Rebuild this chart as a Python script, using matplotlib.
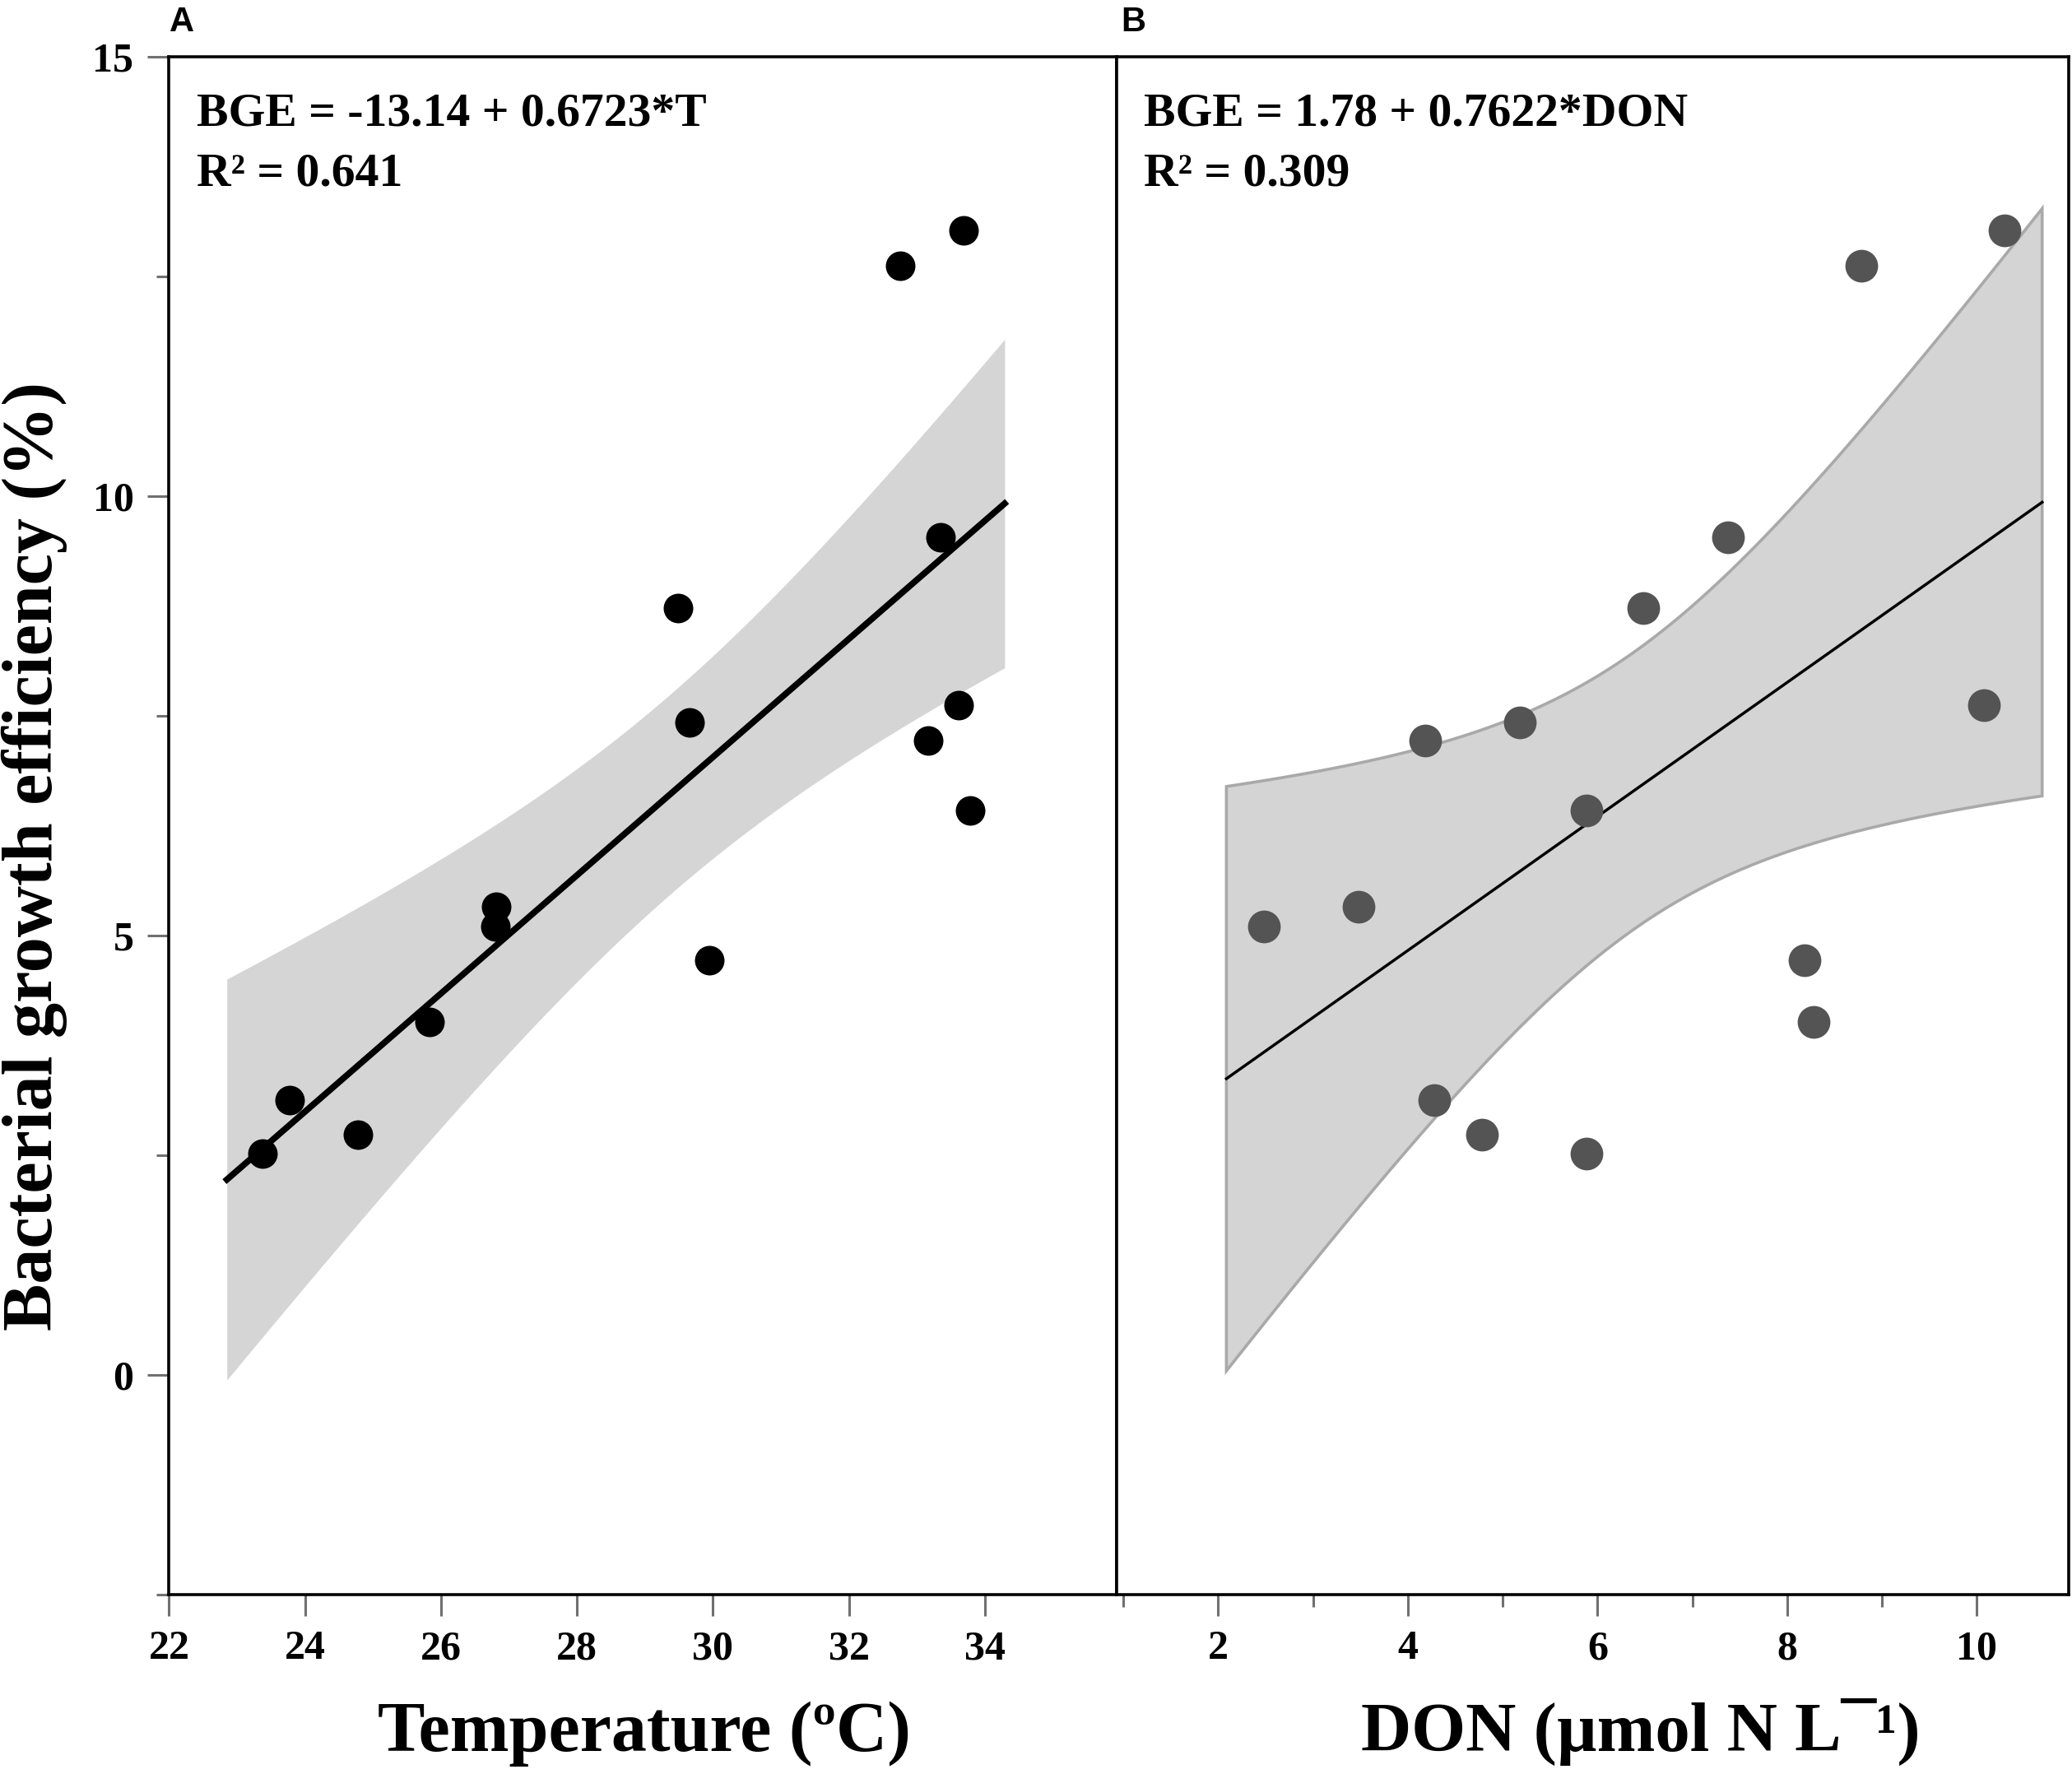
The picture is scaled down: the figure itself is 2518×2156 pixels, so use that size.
import numpy as np
import matplotlib
matplotlib.use("Agg")
import matplotlib.pyplot as plt
from matplotlib.ticker import FixedLocator

# values (one entry per sample, same order in all lists)
bge = [2.52, 3.13, 2.73, 4.02, 5.33, 5.10, 4.72, 8.72, 7.42,
       12.62, 13.02, 9.53, 7.22, 7.62, 6.42]
temp = [23.37, 23.77, 24.78, 25.83, 26.81, 26.80, 29.95, 29.49, 29.65,
        32.76, 33.69, 33.35, 33.17, 33.61, 33.78]
don = [5.88, 4.28, 4.78, 8.28, 3.48, 2.48, 8.18, 6.48, 5.18,
       8.78, 10.29, 7.38, 4.18, 10.08, 5.88]

# printed regression results
fit_t = (-13.14, 0.6723)
fit_don = (1.78, 0.7622)
r2_t = 0.641
r2_don = 0.309
range_t = (22.85, 34.29)
range_don = (2.086, 10.69)
t_crit = 2.160  # t(0.975, df=13)

serif = ['Liberation Serif', 'DejaVu Serif']
sans = ['Liberation Sans', 'DejaVu Sans']
tick_grey = '#707070'


def conf_band(x, y, coef, xs):
    """95% confidence band of the OLS mean response"""
    x = np.asarray(x)
    y = np.asarray(y)
    a, b = coef
    resid = y - (a + b * x)
    n = len(x)
    s = np.sqrt(np.sum(resid ** 2) / (n - 2))
    sxx = np.sum((x - x.mean()) ** 2)
    half = t_crit * s * np.sqrt(1 / n + (xs - x.mean()) ** 2 / sxx)
    fitted = a + b * xs
    return fitted, fitted - half, fitted + half


def style_axis(ax):
    for sp in ax.spines.values():
        sp.set_linewidth(2.6)
        sp.set_color('black')
    ax.tick_params(which='both', direction='out', color=tick_grey, width=2.2,
                   labelsize=36, pad=12)
    ax.tick_params(which='major', length=19)
    ax.tick_params(which='minor', length=11)
    for lab in ax.get_xticklabels() + ax.get_yticklabels():
        lab.set_fontfamily(serif)
        lab.set_fontweight('bold')


fig = plt.figure(figsize=(25.18, 21.56), dpi=100)
ax_a = fig.add_axes([0.0816, 0.1011, 0.5390 - 0.0816, 0.8671])
ax_b = fig.add_axes([0.5390, 0.1011, 0.9984 - 0.5390, 0.8671])

# panel A: temperature
xs = np.linspace(range_t[0], range_t[1], 200)
fitted, lo, hi = conf_band(temp, bge, fit_t, xs)
ax_a.fill_between(xs, lo, hi, color='#d5d5d5', lw=0, zorder=1)
ax_a.plot(xs, fitted, color='black', lw=5.5, zorder=2)
ax_a.scatter(temp, bge, s=670, color='black', lw=0, zorder=3)
ax_a.set_xlim(22, 35.94)
ax_a.set_ylim(-2.5, 15)
ax_a.xaxis.set_major_locator(FixedLocator([22, 24, 26, 28, 30, 32, 34]))
ax_a.set_yticks([-2.5, 0, 2.5, 5, 7.5, 10, 12.5, 15])
ax_a.set_yticklabels(['', '0', '', '5', '', '10', '', '15'])
style_axis(ax_a)
for t in ax_a.yaxis.get_major_ticks():
    if t.get_loc() % 5 != 0:
        t.tick1line.set_markersize(11)
ax_a.text(0.029, 0.955, f'BGE = {fit_t[0]:.2f} + {fit_t[1]:.4f}*T',
          transform=ax_a.transAxes, fontsize=41.5, fontweight='bold',
          family=serif, va='baseline')
ax_a.text(0.029, 0.916, f'R\u00b2 = {r2_t:.3f}', transform=ax_a.transAxes,
          fontsize=41.5, fontweight='bold', family=serif, va='baseline')

# panel B: DON
xs = np.linspace(range_don[0], range_don[1], 200)
fitted, lo, hi = conf_band(don, bge, fit_don, xs)
ax_b.fill(np.concatenate([xs, xs[::-1]]), np.concatenate([lo, hi[::-1]]),
          facecolor='#d4d4d4', edgecolor='#a9a9a9', lw=2.6, zorder=1)
ax_b.plot(xs, fitted, color='black', lw=2.5, zorder=2)
ax_b.scatter(don, bge, s=820, color='#545454', lw=0, zorder=3)
ax_b.set_xlim(0.93, 10.97)
ax_b.set_ylim(-2.5, 15)
ax_b.set_xticks([2, 4, 6, 8, 10])
ax_b.xaxis.set_minor_locator(FixedLocator([1, 3, 5, 7, 9]))
ax_b.set_yticks([])
style_axis(ax_b)
ax_b.text(0.028, 0.955, f'BGE = {fit_don[0]:.2f} + {fit_don[1]:.4f}*DON',
          transform=ax_b.transAxes, fontsize=41.5, fontweight='bold',
          family=serif, va='baseline')
ax_b.text(0.028, 0.916, f'R\u00b2 = {r2_don:.3f}', transform=ax_b.transAxes,
          fontsize=41.5, fontweight='bold', family=serif, va='baseline')

# labels
fig.text(0.0818, 0.9824, 'A', fontsize=30, fontweight='bold', family=sans,
         va='baseline')
fig.text(0.541, 0.9824, 'B', fontsize=30, fontweight='bold', family=sans,
         va='baseline')
fig.text(0.0008, 0.5176, 'Bacterial growth efficiency (%)', rotation=90,
         fontsize=62, fontweight='bold', family=serif, ha='left', va='center')
fig.text(0.311, 0.013, 'Temperature (\u00baC)', fontsize=62, fontweight='bold',
         family=serif, ha='center', va='baseline')
fig.text(0.792, 0.013, 'DON (\u00b5mol N L\u00af\u00b9)', fontsize=61,
         fontweight='bold', family=serif, ha='center', va='baseline')

fig.savefig('out.png', dpi=100)
